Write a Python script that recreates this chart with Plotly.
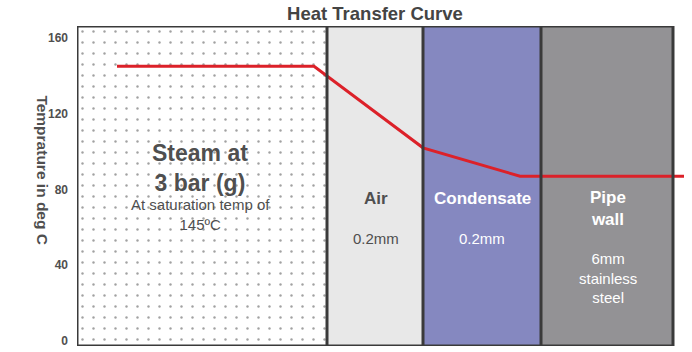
import plotly.graph_objects as go

# ---- data ----
layer_names = ["Steam", "Air", "Condensate", "Pipe wall"]
layer_edges = [0, 250, 346, 464, 596]          # position across the section (arbitrary units)
layer_colors = ["#ffffff", "#e8e8e8", "#8588c0", "#939295"]
line_x = [40, 237, 346, 443, 607]
line_temp = [145, 145, 102, 87, 87]
y_ticks = [0, 40, 80, 120, 160]
y_min, y_max = -2.6, 166.3
x_min, x_max = 0, 612

fig = go.Figure()

centers = [(a + b) / 2 for a, b in zip(layer_edges[:-1], layer_edges[1:])]
widths = [b - a for a, b in zip(layer_edges[:-1], layer_edges[1:])]
fig.add_trace(go.Bar(
    x=centers, width=widths, base=[y_min] * 4, y=[y_max - y_min] * 4,
    marker=dict(color=layer_colors, line=dict(width=0),
                pattern=dict(shape=[".", "", "", ""], fgcolor=["#dcdcdc", "#e8e8e8", "#8588c0", "#939295"],
                             bgcolor=layer_colors, size=11, solidity=0.04)),
    hoverinfo="skip", showlegend=False,
))

border = "#3a3a3a"
for e in layer_edges:
    fig.add_shape(type="line", x0=e, x1=e, y0=y_min, y1=y_max, xref="x", yref="y",
                  line=dict(color=border, width=3))
fig.add_shape(type="line", x0=layer_edges[0], x1=layer_edges[-1], y0=y_max, y1=y_max,
              line=dict(color=border, width=3))
fig.add_shape(type="line", x0=layer_edges[0], x1=layer_edges[-1], y0=y_min, y1=y_min,
              line=dict(color=border, width=3))

fig.add_trace(go.Scatter(x=line_x, y=line_temp, mode="lines",
                         line=dict(color="#dc2129", width=3), hoverinfo="skip", showlegend=False))

dark = "#4f4f4f"
font = "Liberation Sans, Arial, sans-serif"
def ann(x, y, text, size, color, bold=False):
    fig.add_annotation(x=x, y=y, xref="x", yref="y", text=f"<b>{text}</b>" if bold else text,
                       showarrow=False, font=dict(family=font, size=size, color=color),
                       xanchor="center", yanchor="middle", align="center")

ann(123, 91.3, "Steam at<br>3 bar (g)", 23, dark, True)
ann(123, 67, "At saturation temp of<br>145ºC", 15, dark)
ann(299, 75.5, "Air", 17, dark, True)
ann(299, 53.9, "0.2mm", 15, dark)
ann(405, 75.5, "Condensate", 17, "white", True)
ann(405, 53.9, "0.2mm", 15, "white")
ann(531, 70.2, "Pipe<br>wall", 17, "white", True)
ann(531, 33.3, "6mm<br>stainless<br>steel", 15, "white")

fig.add_annotation(x=-0.075, y=90.3, xref="paper", yref="y", text="<b>Temprature in deg C</b>",
                   textangle=90, showarrow=False, font=dict(family=font, size=15.5, color=dark))

fig.update_layout(
    width=692, height=352,
    margin=dict(l=77, r=3, t=26, b=6),
    paper_bgcolor="white", plot_bgcolor="white",
    title=dict(text="<b>Heat Transfer Curve</b>", x=375 / 692, xanchor="center", y=1 - 14 / 352,
               yanchor="middle", font=dict(family=font, size=18.5, color="#444444")),
    xaxis=dict(range=[x_min, x_max], visible=False, fixedrange=True),
    yaxis=dict(range=[y_min, y_max], tickvals=y_ticks, ticktext=[f"<b>{v}</b>" for v in y_ticks],
               showgrid=False, zeroline=False, showline=False, ticks="",
               ticklabelstandoff=8, tickfont=dict(family=font, size=12, color=dark)),
)

fig.write_html("out.html")
